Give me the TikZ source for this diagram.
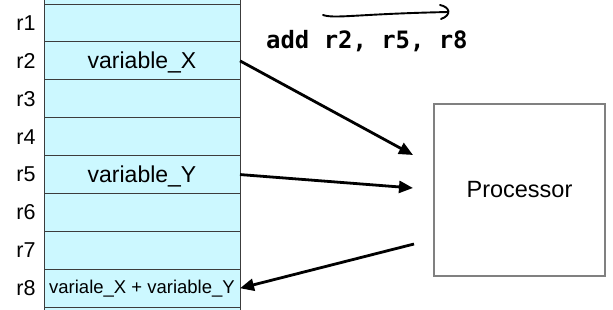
\documentclass[tikz,border=0pt]{standalone}
\usepackage{fontspec}
\setmainfont{Liberation Sans}
\newfontfamily\instrfont{DejaVu Sans Mono}
\usetikzlibrary{arrows.meta}
\definecolor{cellfill}{RGB}{204,248,255}
\definecolor{cellline}{RGB}{60,60,60}
\definecolor{procline}{RGB}{128,128,128}
\tikzset{
  cell/.style={draw=cellline, line width=1pt, fill=cellfill, minimum width=196pt, minimum height=37.9pt, inner sep=0pt, outer sep=0pt, font=\fontsize{23}{26}\selectfont},
  reglabel/.style={font=\fontsize{21.5}{24}\selectfont, inner sep=0pt},
  flow/.style={line width=2.8pt, -{Triangle[length=14pt,width=12pt]}},
  proc/.style={draw=procline, line width=1.3pt, minimum width=171pt, minimum height=172pt, inner sep=0pt, font=\fontsize{23.5}{26}\selectfont},
  hand/.style={line width=1.9pt, line cap=round, line join=round}
}
\begin{document}
\begin{tikzpicture}[x=1pt, y=-1pt]
\useasboundingbox (0,0) rectangle (613,309);
\clip (0,0) rectangle (613,309);
% registers
\foreach \i in {0,...,9} {
  \node[cell] (c\i) at (142, {4+(\i-0.5)*37.9}) {};
}
\node[cell, draw=none, fill=none] (t2) at ([yshift=-1.5pt]c2.center) {variable\_X};
\node[cell, draw=none, fill=none] (t5) at ([yshift=-1.5pt]c5.center) {variable\_Y};
\node[cell, draw=none, fill=none, font=\fontsize{18.5}{21}\selectfont] (t8) at (c8) {variale\_X + variable\_Y};
\foreach \i in {1,...,8} {
  \node[reglabel] (l\i) at (26, {4+(\i-0.5)*37.9}) {r\i};
}
% processor
\node[proc] (proc) at (519.5,190) {Processor};
% instruction
\node[anchor=base west, inner sep=0pt, font=\instrfont\bfseries\fontsize{23.9}{26}\selectfont] (instr) at (266,48) {add r2, r5, r8};
% hand-drawn arrow
\coordinate (hs) at (323,15);
\coordinate (he) at (448,12);
\draw[hand] (hs) .. controls (335,19) and (355,14) .. (he);
\draw[hand] (440,5) .. controls (450,7) and (452,15) .. (441,19);
% connectors
\coordinate (p1) at (413,155);
\coordinate (p2) at (413,188);
\coordinate (p3) at (414,244);
\draw[flow] (c2.east) -- (p1);
\draw[flow] (c5.east) -- (p2);
\draw[flow] (p3) -- (c8.east);
\end{tikzpicture}
\end{document}
